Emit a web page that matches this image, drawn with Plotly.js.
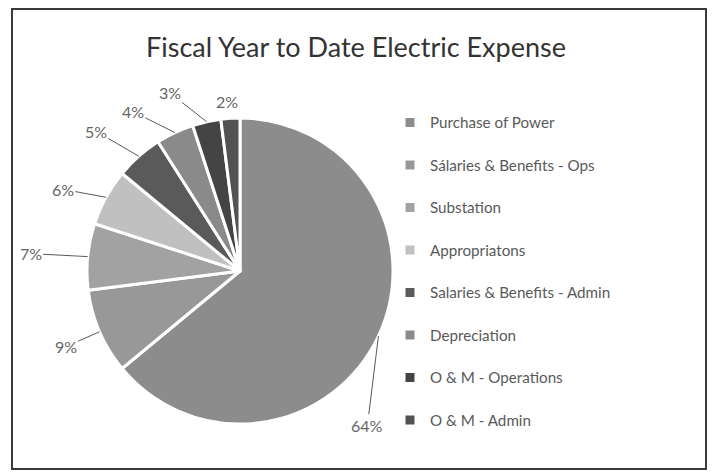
<!DOCTYPE html>
<html>
<head>
<meta charset="utf-8">
<script src="https://cdn.plot.ly/plotly-3.0.1.min.js"></script>
<style>html,body{margin:0;padding:0;background:#fff;}#chart{width:712px;height:473px;}</style>
</head>
<body>
<div id="chart"></div>
<script>
// ---- data ----
var categories = ["Purchase of Power", "Sálaries & Benefits - Ops", "Substation", "Appropriatons",
                  "Salaries & Benefits - Admin", "Depreciation", "O & M - Operations", "O & M - Admin"];
var values = [64, 9, 7, 6, 5, 4, 3, 2];
var percentLabels = ["64%", "9%", "7%", "6%", "5%", "4%", "3%", "2%"];

// ---- styles ----
var sliceColors = ["#8c8c8c", "#989898", "#a2a2a2", "#c0c0c0", "#5a5a5a", "#8a8a8a", "#444444", "#525252"];
// label offsets (px) from the slice edge midpoint, and whether a leader line is drawn
var labelOffsets = [[-11, 89], [-34, 15], [-57, -3], [-43, -8], [-43, -25], [-42, -21], [-37, -29], [-3, -17]];
var showLeader = [true, true, true, true, true, true, true, false];

var W = 712, H = 473;
var dom = {x: [87 / W, 393 / W], y: [1 - 424 / H, 1 - 118 / H]};

var trace = {
  type: "pie",
  labels: categories.map(function (c) { return c + "<br> "; }),
  values: values,
  sort: false,
  direction: "clockwise",
  rotation: 0,
  textinfo: "none",
  hoverinfo: "label+percent",
  marker: {colors: sliceColors, line: {color: "#ffffff", width: 3}},
  domain: dom
};

// compute annotation anchor points from data
var total = values.reduce(function (a, b) { return a + b; }, 0);
var cx = (dom.x[0] + dom.x[1]) / 2 * W;
var cy = (1 - (dom.y[0] + dom.y[1]) / 2) * H;
var r = Math.min((dom.x[1] - dom.x[0]) * W, (dom.y[1] - dom.y[0]) * H) / 2;
var annotations = [];
var cum = 0;
values.forEach(function (v, i) {
  var mid = (cum + v / 2) / total;
  cum += v;
  var th = 2 * Math.PI * mid;
  var px = cx + r * Math.sin(th);
  var py = cy - r * Math.cos(th);
  annotations.push({
    xref: "paper", yref: "paper",
    x: px / W, y: 1 - py / H,
    ax: labelOffsets[i][0], ay: labelOffsets[i][1],
    text: percentLabels[i],
    showarrow: true,
    arrowhead: 0, arrowwidth: 1, arrowcolor: showLeader[i] ? "#5a5a5a" : "rgba(0,0,0,0)",
    standoff: 0,
    font: {family: "Lato, sans-serif", size: 16, color: "#666666"}
  });
});

var layout = {
  width: W, height: H,
  margin: {l: 0, r: 0, t: 0, b: 0},
  paper_bgcolor: "#ffffff",
  title: {
    text: "Fiscal Year to Date Electric Expense",
    font: {family: "Lato, sans-serif", size: 27, color: "#333333"},
    x: 0.5, xanchor: "center", y: 1 - 48 / H, yanchor: "middle"
  },
  showlegend: true,
  legend: {
    x: 390 / W, xanchor: "left",
    y: 1 - 106 / H, yanchor: "top",
    valign: "top",
    font: {family: "Lato, sans-serif", size: 15.2, color: "#595959"},
    bgcolor: "rgba(0,0,0,0)"
  },
  annotations: annotations,
  shapes: [{
    type: "rect", xref: "paper", yref: "paper",
    x0: 12 / W, x1: 706 / W, y0: 1 - 469 / H, y1: 1 - 9 / H,
    line: {color: "#3a3a3a", width: 2}
  }]
};

Plotly.newPlot("chart", [trace], layout, {displayModeBar: false});
</script>
</body>
</html>
